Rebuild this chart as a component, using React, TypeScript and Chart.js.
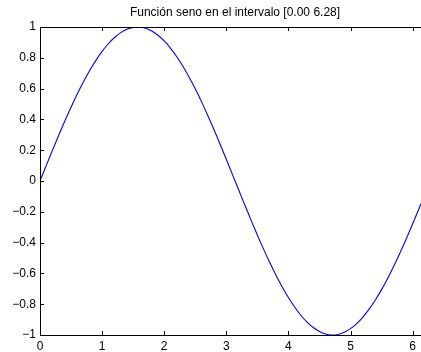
import React, { useEffect, useRef } from "react";
import { Chart, registerables } from "chart.js";

Chart.register(...registerables);

const TITLE = "Función seno en el intervalo [0.00 6.28]";
const X_VALUES = [
  0, 0.1, 0.2, 0.3, 0.4, 0.5, 0.6, 0.7, 0.8, 0.9, 1.0, 1.1, 1.2, 1.3, 1.4, 1.5, 1.6, 1.7, 1.8, 1.9,
  2.0, 2.1, 2.2, 2.3, 2.4, 2.5, 2.6, 2.7, 2.8, 2.9, 3.0, 3.1, 3.2, 3.3, 3.4, 3.5, 3.6, 3.7, 3.8, 3.9,
  4.0, 4.1, 4.2, 4.3, 4.4, 4.5, 4.6, 4.7, 4.8, 4.9, 5.0, 5.1, 5.2, 5.3, 5.4, 5.5, 5.6, 5.7, 5.8, 5.9,
  6.0, 6.1, 6.2, 6.28,
];
const Y_VALUES = [
  0, 0.0998, 0.1987, 0.2955, 0.3894, 0.4794, 0.5646, 0.6442, 0.7174, 0.7833, 0.8415, 0.8912, 0.932,
  0.9636, 0.9854, 0.9975, 0.9996, 0.9917, 0.9738, 0.9463, 0.9093, 0.8632, 0.8085, 0.7457, 0.6755,
  0.5985, 0.5155, 0.4274, 0.335, 0.2392, 0.1411, 0.0416, -0.0584, -0.1577, -0.2555, -0.3508, -0.4425,
  -0.5298, -0.6119, -0.6878, -0.7568, -0.8183, -0.8716, -0.9162, -0.9516, -0.9775, -0.9937, -0.9999,
  -0.9962, -0.9825, -0.9589, -0.9258, -0.8835, -0.8323, -0.7728, -0.7055, -0.6313, -0.5507, -0.4646,
  -0.3739, -0.2794, -0.1822, -0.0831, -0.0032,
];
const X_TICKS = [0, 1, 2, 3, 4, 5, 6];
const Y_TICKS = [-1, -0.8, -0.6, -0.4, -0.2, 0, 0.2, 0.4, 0.6, 0.8, 1];
const X_MIN = 0;
const X_MAX = 6.28;
const Y_MIN = -1;
const Y_MAX = 1;

const FONT = "'Liberation Sans', Arial, Helvetica, sans-serif";
const FONT_SIZE = 12;

const fmt = (v: number) => {
  const s = String(Math.round(v * 10) / 10);
  return s.replace("-", "\u2212");
};

const boxPlugin = {
  id: "matlabBox",
  afterDraw(chart: any) {
    const { ctx, chartArea } = chart;
    const { left, right, top, bottom } = chartArea;
    const xs = chart.scales.x;
    const ys = chart.scales.y;
    const L = 4;
    ctx.save();
    ctx.strokeStyle = "#000";
    ctx.lineWidth = 1;
    ctx.beginPath();
    ctx.rect(Math.round(left) + 0.5, Math.round(top) + 0.5, Math.round(right - left), Math.round(bottom - top));
    for (const v of X_TICKS) {
      const px = Math.round(xs.getPixelForValue(v)) + 0.5;
      ctx.moveTo(px, bottom);
      ctx.lineTo(px, bottom - L);
      ctx.moveTo(px, top);
      ctx.lineTo(px, top + L);
    }
    for (const v of Y_TICKS) {
      const py = Math.round(ys.getPixelForValue(v)) + 0.5;
      ctx.moveTo(left, py);
      ctx.lineTo(left + L, py);
      ctx.moveTo(right, py);
      ctx.lineTo(right - L, py);
    }
    ctx.stroke();
    ctx.fillStyle = "#000";
    ctx.font = `${FONT_SIZE}px ${FONT}`;
    ctx.textAlign = "center";
    ctx.textBaseline = "middle";
    ctx.fillText(TITLE, (left + right) / 2, 13);
    ctx.restore();
  },
};

export default function App() {
  const ref = useRef<HTMLCanvasElement | null>(null);
  useEffect(() => {
    if (!ref.current) return;
    const points = X_VALUES.map((x, i) => ({ x, y: Y_VALUES[i] }));
    const chart = new Chart(ref.current, {
      type: "line",
      data: {
        datasets: [
          {
            data: points,
            borderColor: "#0000ff",
            borderWidth: 1.1,
            pointRadius: 0,
            tension: 0.3,
            fill: false,
          },
        ],
      },
      options: {
        animation: false,
        responsive: false,
        devicePixelRatio: 1,
        layout: { padding: { left: 0, top: 27, right: 40, bottom: 0 } },
        plugins: { legend: { display: false }, tooltip: { enabled: false }, title: { display: false } },
        scales: {
          x: {
            type: "linear",
            min: X_MIN,
            max: X_MAX,
            grid: { display: false, drawTicks: false },
            border: { display: false },
            afterBuildTicks: (s: any) => {
              s.ticks = X_TICKS.map((v) => ({ value: v }));
            },
            afterFit: (s: any) => {
              s.height = 17;
            },
            ticks: {
              autoSkip: false,
              maxRotation: 0,
              padding: 4,
              color: "#000",
              font: { family: FONT, size: FONT_SIZE },
              callback: (v: any) => fmt(Number(v)),
            },
          },
          y: {
            type: "linear",
            min: Y_MIN,
            max: Y_MAX,
            grid: { display: false, drawTicks: false },
            border: { display: false },
            afterBuildTicks: (s: any) => {
              s.ticks = Y_TICKS.map((v) => ({ value: v }));
            },
            afterFit: (s: any) => {
              s.width = 40;
            },
            ticks: {
              autoSkip: false,
              padding: 4,
              color: "#000",
              font: { family: FONT, size: FONT_SIZE },
              callback: (v: any) => fmt(Number(v)),
            },
          },
        },
      },
      plugins: [boxPlugin],
    });
    return () => chart.destroy();
  }, []);
  return (
    <div
      style={{
        position: "fixed",
        left: 0,
        top: 0,
        width: 421,
        height: 352,
        overflow: "hidden",
        background: "#fff",
      }}
    >
      <canvas ref={ref} width={470} height={352} style={{ width: 470, height: 352, display: "block" }} />
    </div>
  );
}
